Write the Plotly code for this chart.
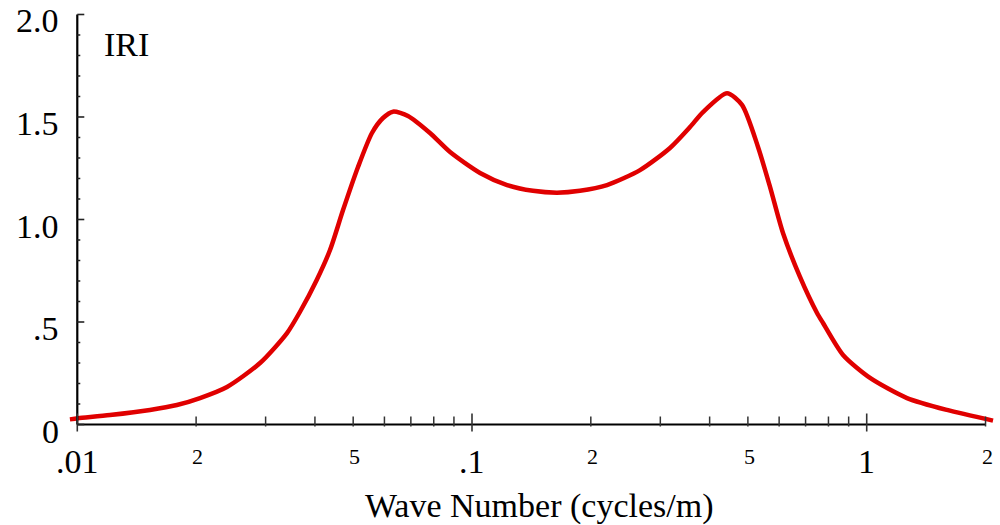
import numpy as np
import plotly.graph_objects as go

# IRI response vs. wave number (cycles/m)
wave_number = [0.00958, 0.01004, 0.0121, 0.01528, 0.01788, 0.02046, 0.02395, 0.02904,
               0.03399, 0.03667, 0.04042, 0.04368, 0.04713, 0.05143, 0.05579, 0.0595,
               0.06307, 0.06884, 0.07826, 0.08799, 0.1048, 0.1227, 0.1427, 0.1642,
               0.1877, 0.2198, 0.2665, 0.3174, 0.3567, 0.3848, 0.4428, 0.4831,
               0.5304, 0.5689, 0.6136, 0.6776, 0.7484, 0.775, 0.871, 1.0196,
               1.265, 1.5972, 2.0893]
iri = [0.025, 0.030, 0.046, 0.071, 0.095, 0.129, 0.183, 0.300,
       0.446, 0.550, 0.705, 0.851, 1.046, 1.256, 1.422, 1.495,
       1.526, 1.505, 1.422, 1.329, 1.227, 1.168, 1.140, 1.131,
       1.140, 1.168, 1.241, 1.349, 1.451, 1.524, 1.616, 1.559,
       1.354, 1.159, 0.934, 0.720, 0.544, 0.495, 0.339, 0.227,
       0.129, 0.071, 0.019]

# axis ticks
x_major = [0.01, 0.1, 1]
x_major_labels = [".01", ".1", "1"]
x_minor = [0.02, 0.03, 0.04, 0.05, 0.06, 0.07, 0.08, 0.09,
           0.2, 0.3, 0.4, 0.5, 0.6, 0.7, 0.8, 0.9, 2]
x_minor_labelled = [0.02, 0.05, 0.2, 0.5, 2]
x_minor_labels = ["2", "5", "2", "5", "2"]
y_major = [0, 0.5, 1.0, 1.5, 2.0]
y_major_labels = ["0", ".5", "1.0", "1.5", "2.0"]
y_minor = [0.1, 0.2, 0.3, 0.4, 0.6, 0.7, 0.8, 0.9, 1.1, 1.2, 1.3, 1.4, 1.6, 1.7, 1.8, 1.9]

FONT = "Liberation Serif, Times New Roman, serif"
X_ORIGIN = 0.01
X_END = 2

fig = go.Figure()
fig.add_trace(go.Scatter(
    x=wave_number, y=iri, mode="lines",
    line=dict(color="#e00000", width=4.5, shape="spline", smoothing=0.7),
    hoverinfo="skip", showlegend=False,
))

shapes = []
# axis lines
shapes.append(dict(type="line", xref="x", yref="y", x0=X_ORIGIN, x1=X_END, y0=0, y1=0,
                   line=dict(color="black", width=2.2), layer="above"))
shapes.append(dict(type="line", xref="x", yref="y", x0=X_ORIGIN, x1=X_ORIGIN, y0=0, y1=2.0,
                   line=dict(color="black", width=2.2), layer="above"))
# x ticks
for v in x_major:
    shapes.append(dict(type="line", xref="x", yref="y", x0=v, x1=v,
                       ysizemode="pixel", yanchor=0, y0=-7, y1=11,
                       line=dict(color="#333", width=1.6), layer="above"))
for v in x_minor:
    shapes.append(dict(type="line", xref="x", yref="y", x0=v, x1=v,
                       ysizemode="pixel", yanchor=0, y0=-2, y1=8,
                       line=dict(color="#333", width=1.5), layer="above"))
# y ticks
for v in y_major:
    shapes.append(dict(type="line", xref="x", yref="y", y0=v, y1=v,
                       xsizemode="pixel", xanchor=X_ORIGIN, x0=-9, x1=7,
                       line=dict(color="#222", width=1.6), layer="above"))
for v in y_minor:
    shapes.append(dict(type="line", xref="x", yref="y", y0=v, y1=v,
                       xsizemode="pixel", xanchor=X_ORIGIN, x0=-5, x1=3,
                       line=dict(color="#222", width=1.5), layer="above"))

annotations = []
for v, t in zip(x_major, x_major_labels):
    annotations.append(dict(x=np.log10(v), y=0, xref="x", yref="y", text=t,
                            showarrow=False, yshift=-37, xanchor="center", yanchor="middle",
                            font=dict(family=FONT, size=34, color="black")))
for v, t in zip(x_minor_labelled, x_minor_labels):
    annotations.append(dict(x=np.log10(v), y=0, xref="x", yref="y", text=t,
                            showarrow=False, yshift=-31.5, xshift=1.5, xanchor="center",
                            yanchor="middle",
                            font=dict(family=FONT, size=22, color="black")))
for v, t in zip(y_major, y_major_labels):
    annotations.append(dict(x=np.log10(X_ORIGIN), y=v, xref="x", yref="y", text=t,
                            showarrow=False, xshift=-16, yshift=-6.5, xanchor="right",
                            yanchor="middle",
                            font=dict(family=FONT, size=34, color="black")))
annotations.append(dict(x=0.5096, y=-0.1375, xref="paper", yref="paper",
                        text="Wave Number (cycles/m)", showarrow=False,
                        xanchor="center", yanchor="middle",
                        font=dict(family=FONT, size=34, color="black")))
annotations.append(dict(x=0.0707, y=0.911, xref="paper", yref="paper",
                        text="IRI", showarrow=False,
                        xanchor="center", yanchor="middle",
                        font=dict(family=FONT, size=34, color="black")))

fig.update_layout(
    width=1000, height=525,
    margin=dict(l=60, r=0, t=5, b=80),
    paper_bgcolor="white", plot_bgcolor="white",
    xaxis=dict(type="log", range=[-2.0438, 0.3377], showgrid=False, zeroline=False,
               showline=False, showticklabels=False, ticks=""),
    yaxis=dict(range=[-0.1, 2.0463], showgrid=False, zeroline=False,
               showline=False, showticklabels=False, ticks=""),
    shapes=shapes,
    annotations=annotations,
)

fig.write_html("out.html")
